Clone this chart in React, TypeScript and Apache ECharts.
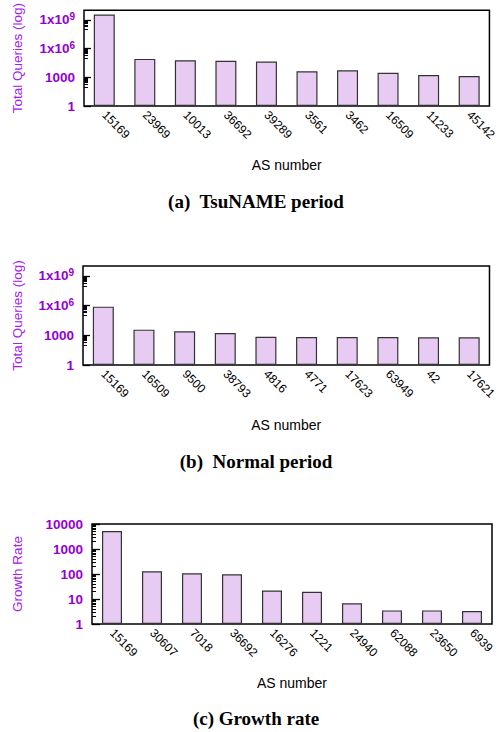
import React, { useEffect, useRef } from "react";
import * as echarts from "echarts";

// ---- data ----
const catsTsuname = ["15169", "23969", "10013", "36692", "39289", "3561", "3462", "16509", "11233", "45142"];
const valsTsuname = [3.7e9, 8.3e4, 6.0e4, 5.2e4, 4.4e4, 4.3e3, 5.5e3, 2.9e3, 1.7e3, 1.35e3];

const catsNormal = ["15169", "16509", "9500", "38793", "4816", "4771", "17623", "63949", "42", "17621"];
const valsNormal = [7.8e5, 3.7e3, 2.5e3, 1.7e3, 720, 670, 670, 660, 630, 620];

const catsGrowth = ["15169", "30607", "7018", "36692", "16276", "1221", "24940", "62088", "23650", "6939"];
const valsGrowth = [5250, 128, 107, 97, 22, 19.6, 6.7, 3.5, 3.5, 3.3];

const ticksQueries = [1, 1000, 1e6, 1e9];
const ticksGrowth = [1, 10, 100, 1000, 10000];

const captions = ["(a)  TsuNAME period", "(b)  Normal period", "(c) Growth rate"];

// minor tick positions (axis decoration)
const minorQueries: number[] = [];
[100, 1e5, 1e8].forEach((b) => {
  for (let k = 1; k <= 9; k++) minorQueries.push(k * b);
});
const minorGrowth: number[] = [];
[1, 10, 100, 1000].forEach((b) => {
  for (let k = 2; k <= 9; k++) minorGrowth.push(k * b);
});

const PURPLE = "#9400d3";
const NAME_PURPLE = "#a020f0";
const SANS = "Liberation Sans";

function queryLabel(v: number): string {
  if (v === 1) return "1";
  if (v === 1000) return "1000";
  if (v === 1e6) return "1x10{s|6}";
  if (v === 1e9) return "1x10{s|9}";
  return "";
}

export default function App() {
  const ref = useRef<HTMLDivElement>(null);
  useEffect(() => {
    if (!ref.current) return;
    const chart = echarts.init(ref.current, null, { renderer: "svg" });

    const grids = [
      { left: 84, top: 7, width: 408, height: 99 },
      { left: 83, top: 266, width: 409, height: 99 },
      { left: 92, top: 524, width: 400, height: 100 },
    ].map((g) => ({
      ...g,
      show: true,
      borderColor: "#000",
      borderWidth: 1.5,
      backgroundColor: "transparent",
    }));

    const cats = [catsTsuname, catsNormal, catsGrowth];
    const vals = [valsTsuname, valsNormal, valsGrowth];
    const nameGapsY = [60, 59, 68];
    const nameGapsX = [52, 53, 52];
    const barWidths = [21, 21, 20];

    const xAxis = cats.map((c, i) => ({
      type: "category",
      gridIndex: i,
      data: c,
      axisLine: { show: false },
      axisTick: { show: false },
      splitLine: { show: false },
      axisLabel: {
        rotate: -45,
        interval: 0,
        hideOverlap: false,
        margin: 7,
        fontSize: 12,
        color: "#000",
        fontFamily: SANS,
      },
      name: "AS number",
      nameLocation: "middle",
      nameGap: nameGapsX[i],
      nameTextStyle: { fontSize: 14, color: "#000", fontFamily: SANS },
    }));

    const mainY = [0, 1, 2].map((i) => {
      const isGrowth = i === 2;
      const max = isGrowth ? 10000 : 1e10;
      const ticks = isGrowth ? ticksGrowth : ticksQueries;
      return {
        type: "log",
        logBase: 10,
        gridIndex: i,
        min: 1,
        max,
        axisLine: { show: false },
        splitLine: { show: false },
        axisTick: {
          show: true,
          inside: true,
          length: isGrowth ? 8 : 7,
          lineStyle: { color: "#000", width: 1.3 },
          customValues: ticks,
        },
        axisLabel: {
          customValues: ticks,
          margin: 9,
          fontSize: 13.5,
          fontWeight: "bold",
          color: PURPLE,
          fontFamily: SANS,
          formatter: (v: number) => (isGrowth ? String(Math.round(v)) : queryLabel(v)),
          rich: {
            s: {
              fontSize: 10,
              fontWeight: "bold",
              color: PURPLE,
              fontFamily: SANS,
              verticalAlign: "bottom",
              padding: [0, 0, 7, 0],
            },
          },
        },
        name: isGrowth ? "Growth Rate" : "Total Queries (log)",
        nameLocation: "middle",
        nameGap: nameGapsY[i],
        nameTextStyle: { fontSize: 13.5, color: NAME_PURPLE, fontFamily: SANS },
      };
    });

    const minorY = [0, 1, 2].map((i) => {
      const isGrowth = i === 2;
      return {
        type: "log",
        logBase: 10,
        gridIndex: i,
        min: 1,
        max: isGrowth ? 10000 : 1e10,
        position: "left",
        axisLine: { show: false },
        splitLine: { show: false },
        axisLabel: { show: false },
        axisTick: {
          show: true,
          inside: true,
          length: 4,
          lineStyle: { color: "#000", width: 1 },
          customValues: isGrowth ? minorGrowth : minorQueries,
        },
      };
    });

    const series = vals.map((v, i) => ({
      type: "bar",
      xAxisIndex: i,
      yAxisIndex: i,
      data: v,
      barWidth: barWidths[i],
      itemStyle: { color: "#e8cbf3", borderColor: "#333", borderWidth: 1.2 },
      silent: true,
    }));

    const captionY = [201, 461, 718];
    const graphic = captions.map((t, i) => ({
      type: "text",
      x: 256,
      y: captionY[i],
      style: {
        text: t,
        font: 'bold 19px "Liberation Serif"',
        fill: "#000",
        align: "center",
        verticalAlign: "middle",
      },
    }));

    chart.setOption({
      animation: false,
      grid: grids,
      xAxis,
      yAxis: [...mainY, ...minorY],
      series,
      graphic,
    });
    return () => chart.dispose();
  }, []);
  return (
    <div
      ref={ref}
      style={{ position: "absolute", left: 0, top: 0, width: 499, height: 732, background: "#fff" }}
    />
  );
}
